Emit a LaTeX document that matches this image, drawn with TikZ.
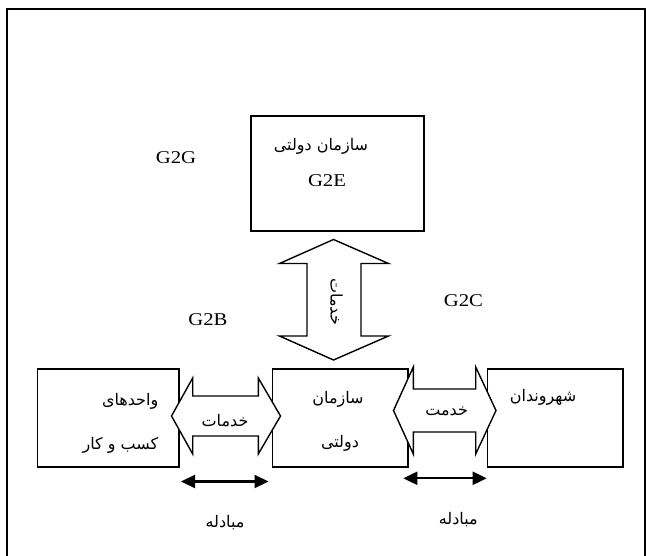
\documentclass[tikz,border=0pt]{standalone}
\usepackage{fontspec}
\setmainfont{Liberation Serif}
\newfontfamily\arabicfont[Script=Arabic]{DejaVu Sans}
\newfontfamily\latinfont[FakeStretch=1.15]{Liberation Serif}
\TeXXeTstate=1
\usetikzlibrary{arrows.meta}
\begin{document}
\begin{tikzpicture}[x=1pt,y=-1pt,
  box/.style={draw,line width=1.6pt,inner sep=0pt,anchor=north west},
  bigarrow/.style={draw,fill=white,line width=1.4pt,line join=miter},
  exch/.style={line width=2.2pt,{Triangle[length=14pt,width=13pt]}-{Triangle[length=14pt,width=13pt]}},
  ar/.style={font=\arabicfont\fontsize{16}{18}\selectfont,inner sep=0pt},
  lat/.style={font=\latinfont\fontsize{18}{20}\selectfont,inner sep=0pt}]
\useasboundingbox (0,0) rectangle (646,555);
\fill[white] (0,0) rectangle (646,555);
% frame
\draw[line width=1.6pt] (7,560) -- (7,9) -- (645,9) -- (645,560);
% boxes
\node[box,minimum width=173pt,minimum height=115pt] (top) at (250,115) {};
\node[box,minimum width=141.6pt,minimum height=98pt] (biz) at (36.7,368) {};
\node[box,minimum width=135.2pt,minimum height=98pt] (gov) at (271.7,368) {};
\node[box,minimum width=135.6pt,minimum height=98pt] (cit) at (486.7,368) {};
% big double arrows
\draw[bigarrow] (333.5,239.5) -- (388.5,263.5) -- (361,263.5) -- (361,336) -- (388.5,336) -- (333.5,360) -- (279.5,336) -- (307,336) -- (307,263.5) -- (279.5,263.5) -- cycle;
\draw[bigarrow] (171.5,416) -- (192.7,378) -- (192.7,396) -- (258.3,396) -- (258.3,378) -- (280.5,416) -- (258.3,454) -- (258.3,436) -- (192.7,436) -- (192.7,454) -- cycle;
\draw[bigarrow] (393.5,410.5) -- (413.3,367) -- (413.3,389) -- (475.7,389) -- (475.7,367) -- (496,410.5) -- (475.7,454) -- (475.7,432) -- (413.3,432) -- (413.3,454) -- cycle;
% exchange arrows
\coordinate (e1a) at (181,481.5);
\coordinate (e1b) at (268.5,481.5);
\coordinate (e2a) at (403.3,478.3);
\coordinate (e2b) at (486.7,478.3);
\draw[exch] (e1a) -- (e1b);
\draw[exch] (e2a) -- (e2b);
% texts
\node[ar] (t1) at (321,146) {\beginR سازمان دولتی\endR};
\node[lat] (t2) at (327,181) {G2E};
\node[lat] (g2g) at (176,158) {G2G};
\node[lat] (g2b) at (208,320) {G2B};
\node[lat] (g2c) at (463.5,300.7) {G2C};
\node[ar,rotate=-90] (vserv) at (336.5,301.5) {\beginR خدمات\endR};
\node[ar,anchor=east] (b1) at (158.5,401) {\beginR واحدهای\endR};
\node[ar,anchor=east] (b2) at (158.5,445) {\beginR کسب و کار\endR};
\node[ar] (s1) at (225,421) {\beginR خدمات\endR};
\node[ar] (g1) at (338,399) {\beginR سازمان\endR};
\node[ar] (g2) at (340,443) {\beginR دولتی\endR};
\node[ar] (s2) at (446.7,411.5) {\beginR خدمت\endR};
\node[ar] (c1) at (543,397) {\beginR شهروندان\endR};
\node[ar] (x1) at (225,523) {\beginR مبادله\endR};
\node[ar] (x2) at (458.3,520) {\beginR مبادله\endR};
\end{tikzpicture}
\end{document}
